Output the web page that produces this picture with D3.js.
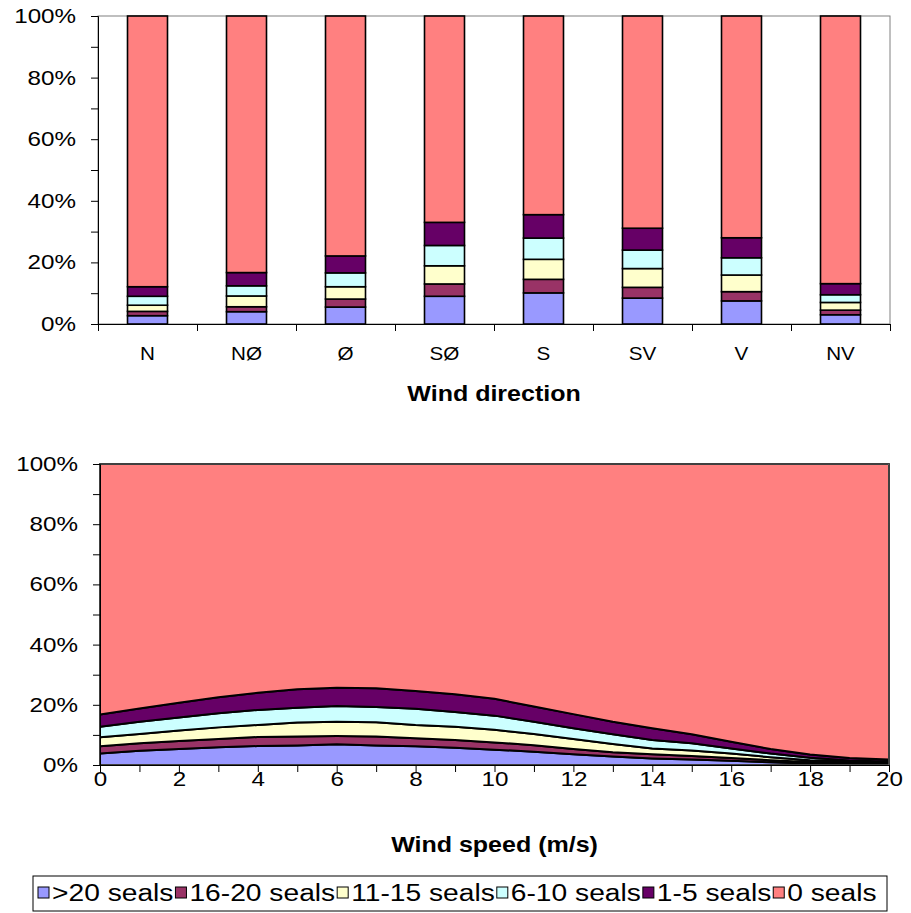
<!DOCTYPE html>
<html>
<head>
<meta charset="utf-8">
<script src="https://cdn.jsdelivr.net/npm/d3@7"></script>
<style>
  html, body { margin: 0; padding: 0; background: #fff; }
  svg { display: block; font-family: "Liberation Sans", Arial, sans-serif; }
</style>
</head>
<body>
<svg id="chart" width="911" height="913"></svg>
<script>
// ---- data -------------------------------------------------------------
const seriesNames = [">20 seals", "16-20 seals", "11-15 seals", "6-10 seals", "1-5 seals", "0 seals"];
const seriesColors = ["#9999FF", "#993366", "#FFFFCC", "#CCFFFF", "#660066", "#FF8080"];

// share of counts (%) per wind direction
const directions = ["N", "NØ", "Ø", "SØ", "S", "SV", "V", "NV"];
const dirOver20   = [2.7, 4.0, 5.5, 9.0, 10.1, 8.4, 7.5, 3.0];
const dir16to20   = [1.4, 1.6, 2.6, 4.0, 4.4, 3.5, 3.0, 1.5];
const dir11to15   = [2.0, 3.5, 4.0, 5.9, 6.5, 6.1, 5.4, 2.5];
const dir6to10    = [2.9, 3.3, 4.5, 6.6, 6.9, 6.0, 5.6, 2.5];
const dir1to5     = [3.1, 4.3, 5.5, 7.5, 7.6, 7.1, 6.5, 3.6];
const dirZero     = [87.9, 83.3, 77.9, 67.0, 64.5, 68.9, 72.0, 86.9];

// share of counts (%) per wind speed (m/s)
const speeds      = [0,1,2,3,4,5,6,7,8,9,10,11,12,13,14,15,16,17,18,19,20];
const spdOver20   = [3.8,4.7,5.3,5.9,6.3,6.5,6.9,6.5,6.2,5.7,5.1,4.4,3.6,2.8,2.2,1.8,1.4,0.9,0.5,0.3,0.2];
const spd16to20   = [2.4,2.5,2.7,2.7,3.0,3.0,2.7,3.0,2.7,2.6,2.4,2.2,1.7,1.4,1.4,1.2,0.9,0.7,0.5,0.3,0.3];
const spd11to15   = [3.0,3.1,3.5,3.9,4.0,4.6,4.8,4.7,4.4,4.4,4.2,3.7,3.3,2.8,1.9,1.8,1.5,1.0,0.6,0.4,0.3];
const spd6to10    = [3.5,4.1,4.3,4.7,5.0,4.9,5.2,5.1,5.4,4.9,4.7,4.1,3.6,3.2,2.8,2.4,1.7,1.2,0.8,0.5,0.4];
const spd1to5     = [4.1,4.4,4.9,5.3,5.7,6.2,6.1,6.2,5.9,5.9,5.6,5.0,4.7,4.2,3.9,3.0,2.2,1.5,1.1,0.8,0.6];
const spdZero     = [83.2,81.2,79.3,77.5,76.0,74.8,74.3,74.5,75.4,76.5,78.0,80.6,83.1,85.6,87.8,89.8,92.3,94.7,96.5,97.7,98.2];

const speedTickLabels = [0,2,4,6,8,10,12,14,16,18,20];
const pctTicks = d3.range(0, 1.0001, 0.1);
const pctLabels = [0, 0.2, 0.4, 0.6, 0.8, 1.0];

// ---- helpers -----------------------------------------------------------
const svg = d3.select("#chart");
const SX = 1.18;   // horizontal stretch of the lettering
const fmtPct = d3.format(".0%");

function label(g, x, y, txt, size, weight, anchor) {
  return g.append("text")
    .attr("x", 0).attr("y", 0)
    .attr("transform", `translate(${x},${y}) scale(${SX},1)`)
    .attr("text-anchor", anchor || "middle")
    .attr("font-size", size)
    .attr("font-weight", weight || "normal")
    .attr("fill", "#000")
    .text(txt);
}

function yAxis(g, y, x0) {
  const ax = g.append("g").attr("transform", `translate(${x0},0)`)
    .call(d3.axisLeft(y).tickValues(pctTicks).tickSize(7).tickPadding(15)
      .tickFormat(d => pctLabels.some(v => Math.abs(v - d) < 1e-9) ? fmtPct(d) : ""));
  ax.selectAll("text").attr("font-size", 20.5).attr("fill", "#000").attr("font-family", null);
  ax.selectAll("line").attr("stroke", "#000");
  ax.select(".domain").attr("stroke", "#000");
  ax.selectAll(".tick text").each(function () {
    const t = d3.select(this);
    t.attr("transform", `translate(${(+t.attr("x")) * (1 - SX)},0) scale(${SX},1)`);
  });
  return ax;
}

// ---- top: 100 % stacked columns by wind direction -----------------------
{
  const left = 98, right = 890, top = 16, bottom = 324;
  const g = svg.append("g");

  const rows = directions.map((d, i) => ({
    dir: d,
    s0: dirOver20[i], s1: dir16to20[i], s2: dir11to15[i],
    s3: dir6to10[i], s4: dir1to5[i], s5: dirZero[i]
  }));
  const keys = ["s0", "s1", "s2", "s3", "s4", "s5"];
  const stacked = d3.stack().keys(keys).offset(d3.stackOffsetExpand)(rows);

  const x = d3.scaleBand().domain(directions).range([left, right])
    .paddingInner(0.596).paddingOuter(0.298);
  const xEdge = d3.scaleLinear().domain([0, directions.length]).range([left, right]);
  const y = d3.scaleLinear().domain([0, 1]).range([bottom, top]);

  g.append("rect").attr("x", left).attr("y", top)
    .attr("width", right - left).attr("height", bottom - top)
    .attr("fill", "none").attr("stroke", "#808080").attr("stroke-width", 1);

  g.selectAll("g.layer").data(stacked).join("g")
    .attr("class", "layer")
    .attr("fill", (d, i) => seriesColors[i])
    .selectAll("rect").data(d => d).join("rect")
    .attr("x", d => x(d.data.dir))
    .attr("width", x.bandwidth())
    .attr("y", d => y(d[1]))
    .attr("height", d => y(d[0]) - y(d[1]))
    .attr("stroke", "#000").attr("stroke-width", 1.6);

  yAxis(g, y, left);

  // category axis: ticks between the columns, names under them
  const xb = g.append("g").attr("transform", `translate(0,${bottom})`)
    .call(d3.axisBottom(xEdge).tickValues(d3.range(0, directions.length + 1)).tickSize(7).tickFormat(""));
  xb.selectAll("line").attr("stroke", "#000");
  xb.select(".domain").attr("stroke", "#000");
  const xl = g.append("g").attr("transform", `translate(0,${bottom})`)
    .call(d3.axisBottom(x).tickSize(0).tickPadding(36));
  xl.select(".domain").remove();
  xl.selectAll("text").attr("font-size", 17.5).attr("fill", "#000").attr("font-family", null)
    .attr("dy", "0");
  xl.selectAll(".tick text").attr("transform", `scale(${SX},1)`);

  label(g, (left + right) / 2, 401, "Wind direction", 21.2, "bold");
}

// ---- bottom: 100 % stacked area by wind speed ---------------------------
{
  const left = 100, right = 889, top = 464, bottom = 765;
  const g = svg.append("g");

  const rows = speeds.map((s, i) => ({
    spd: s,
    s0: spdOver20[i], s1: spd16to20[i], s2: spd11to15[i],
    s3: spd6to10[i], s4: spd1to5[i], s5: spdZero[i]
  }));
  const keys = ["s0", "s1", "s2", "s3", "s4", "s5"];
  const stacked = d3.stack().keys(keys).offset(d3.stackOffsetExpand)(rows);

  const x = d3.scaleLinear().domain([0, 20]).range([left, right]);
  const y = d3.scaleLinear().domain([0, 1]).range([bottom, top]);

  const area = d3.area()
    .x(d => x(d.data.spd))
    .y0(d => y(d[0]))
    .y1(d => y(d[1]));

  g.selectAll("path.layer").data(stacked).join("path")
    .attr("class", "layer")
    .attr("d", area)
    .attr("fill", (d, i) => seriesColors[i])
    .attr("stroke", "#000").attr("stroke-width", 2)
    .attr("stroke-linejoin", "round");

  g.append("rect").attr("x", left).attr("y", top)
    .attr("width", right - left).attr("height", bottom - top)
    .attr("fill", "none").attr("stroke", "#808080").attr("stroke-width", 1);

  yAxis(g, y, left);

  const xa = g.append("g").attr("transform", `translate(0,${bottom})`)
    .call(d3.axisBottom(x).tickValues(speeds).tickSize(7).tickPadding(-1)
      .tickFormat(d => speedTickLabels.includes(d) ? String(d) : ""));
  xa.selectAll("line").attr("stroke", "#000");
  xa.select(".domain").attr("stroke", "#000");
  xa.selectAll("text").attr("font-size", 20.5).attr("fill", "#000").attr("font-family", null)
    .attr("transform", `scale(${SX},1)`);

  label(g, (left + right) / 2, 852, "Wind speed (m/s)", 21.2, "bold");
}

// ---- legend --------------------------------------------------------------
{
  const g = svg.append("g");
  const boxL = 33, boxR = 887, boxT = 876, boxB = 911;
  g.append("rect").attr("x", boxL).attr("y", boxT)
    .attr("width", boxR - boxL).attr("height", boxB - boxT)
    .attr("fill", "#fff").attr("stroke", "#000").attr("stroke-width", 1);

  let cx = 38;
  const cy = 893;
  seriesNames.forEach((name, i) => {
    g.append("rect").attr("x", cx).attr("y", cy - 6)
      .attr("width", 11).attr("height", 11)
      .attr("fill", seriesColors[i]).attr("stroke", "#000").attr("stroke-width", 1);
    cx += 14;
    const t = label(g, cx, cy + 8, name, 23.9, "normal", "start");
    cx += t.node().getComputedTextLength() * SX + 2;
  });
}
</script>
</body>
</html>
